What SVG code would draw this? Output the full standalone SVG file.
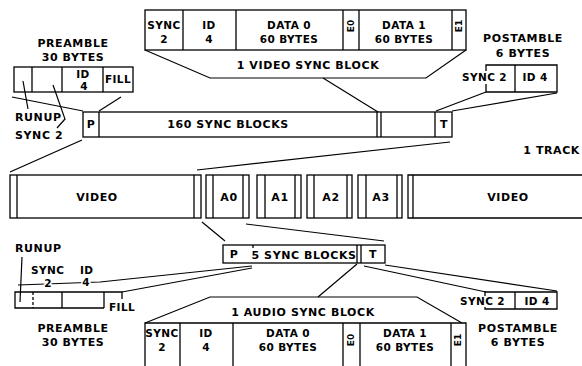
<svg xmlns="http://www.w3.org/2000/svg" width="582" height="366" viewBox="0 0 582 366">
<style>
.b{fill:none;stroke:#000;stroke-width:1.3;stroke-linejoin:miter}
.c{fill:none;stroke:#000;stroke-width:1.2}
.t{font-family:"DejaVu Sans","Liberation Sans",sans-serif;font-weight:bold;font-size:11px;letter-spacing:0.6px;fill:#000;text-anchor:middle}
.s{font-size:10.5px;letter-spacing:0.4px}
.r{font-size:9px;letter-spacing:0}
.l{text-anchor:start}
.e{text-anchor:end}
.h{stroke:#fff;stroke-width:3px;paint-order:stroke}
</style>
<rect width="582" height="366" fill="#fff"/>

<g id="connectors">
  <!-- video sync block to bar -->
  <polyline class="c" points="145,50 210,78 426,78 466,50"/>
  <line class="c" x1="323" y1="78" x2="378" y2="112"/>
  <!-- top postamble to T -->
  <line class="c" x1="486" y1="92" x2="436" y2="111"/>
  <line class="c" x1="557" y1="93" x2="452" y2="111"/>
  <!-- top preamble to P -->
  <line class="c" x1="12" y1="97" x2="83" y2="111"/>
  <line class="c" x1="121" y1="97" x2="99" y2="111"/>
  <!-- pointers -->
  <line class="c" x1="23" y1="81" x2="28" y2="109"/>
  <polyline class="c" points="53,85 65,119 57,128"/>
  <!-- bar to track -->
  <line class="c" x1="82" y1="140" x2="10" y2="172"/>
  <line class="c" x1="450" y1="142" x2="197" y2="170"/>
  <!-- track to audio bar -->
  <line class="c" x1="202" y1="222" x2="225" y2="241"/>
  <line class="c" x1="246" y1="224" x2="384" y2="241"/>
  <!-- audio bar to bottom preamble -->
  <polyline class="c" points="18,285 100,282 252,266"/>
  <line class="c" x1="122" y1="292" x2="252" y2="268"/>
  <line class="c" x1="22" y1="257" x2="20" y2="302"/>
  <!-- audio bar to audio sync block -->
  <line class="c" x1="357" y1="264" x2="318" y2="297"/>
  <polyline class="c" points="145,323 210,297 417,297 462,323"/>
  <!-- audio T to bottom postamble -->
  <line class="c" x1="364" y1="266" x2="486" y2="292"/>
  <line class="c" x1="385" y1="265" x2="557" y2="291"/>
</g>

<g id="video-sync-block">
  <rect class="b" x="145" y="10" width="321" height="40"/>
  <line class="b" x1="183" y1="10" x2="183" y2="50"/>
  <line class="b" x1="236" y1="10" x2="236" y2="50"/>
  <line class="b" x1="343" y1="10" x2="343" y2="50"/>
  <line class="b" x1="359" y1="10" x2="359" y2="50"/>
  <line class="b" x1="452" y1="10" x2="452" y2="50"/>
  <text class="t s" x="164" y="29">SYNC</text>
  <text class="t s" x="164" y="43">2</text>
  <text class="t s" x="209" y="29">ID</text>
  <text class="t s" x="209" y="43">4</text>
  <text class="t s" x="289" y="29">DATA 0</text>
  <text class="t s" x="289" y="43">60 BYTES</text>
  <text class="t r" transform="translate(351,26) rotate(-90)" x="0" y="3.3">E0</text>
  <text class="t s" x="404" y="29">DATA 1</text>
  <text class="t s" x="404" y="43">60 BYTES</text>
  <text class="t r" transform="translate(459,26) rotate(-90)" x="0" y="3.3">E1</text>
  <text class="t" x="308" y="69">1 VIDEO SYNC BLOCK</text>
</g>

<g id="preamble-top">
  <text class="t" x="73" y="47">PREAMBLE</text>
  <text class="t" x="73" y="61">30 BYTES</text>
  <rect class="b" x="14" y="67" width="119" height="25"/>
  <line class="b" x1="32" y1="67" x2="32" y2="92"/>
  <line class="b" x1="62" y1="67" x2="62" y2="92"/>
  <line class="b" x1="103" y1="67" x2="103" y2="92"/>
  <text class="t s" x="83" y="78">ID</text>
  <text class="t s" x="84" y="90">4</text>
  <text class="t s" x="118" y="83">FILL</text>
  <text class="t l" x="15" y="121">RUNUP</text>
  <text class="t l" x="15" y="139">SYNC 2</text>
</g>

<g id="postamble-top">
  <text class="t" x="523" y="42">POSTAMBLE</text>
  <text class="t" x="523" y="57">6 BYTES</text>
  <polyline class="b" points="486,71 486,65 557,65 557,92 486,92 486,84"/>
  <line class="b" x1="515" y1="65" x2="515" y2="92"/>
  <text class="t s l" x="462" y="81">SYNC 2</text>
  <text class="t s" x="535" y="81">ID 4</text>
</g>

<g id="video-bar">
  <rect class="b" x="83" y="112" width="369" height="25"/>
  <line class="b" x1="99" y1="112" x2="99" y2="137"/>
  <line class="b" x1="377" y1="112" x2="377" y2="137"/>
  <line class="b" x1="381" y1="112" x2="381" y2="137"/>
  <line class="b" x1="435" y1="112" x2="435" y2="137"/>
  <text class="t" x="91" y="128">P</text>
  <text class="t" x="228" y="128">160 SYNC BLOCKS</text>
  <text class="t" x="444" y="128">T</text>
</g>

<g id="track">
  <text class="t e" x="580" y="154">1 TRACK</text>
  <g id="seg-video-1">
    <rect class="b" x="10" y="175" width="191" height="43"/>
    <line class="b" x1="17" y1="175" x2="17" y2="218"/>
    <line class="b" x1="194" y1="175" x2="194" y2="218"/>
    <text class="t" x="97" y="201">VIDEO</text>
  </g>
  <g id="seg-a0">
    <rect class="b" x="206" y="175" width="43" height="43"/>
    <line class="b" x1="213" y1="175" x2="213" y2="218"/>
    <line class="b" x1="243" y1="175" x2="243" y2="218"/>
    <text class="t" x="229" y="201">A0</text>
  </g>
  <g id="seg-a1">
    <rect class="b" x="257" y="175" width="44" height="43"/>
    <line class="b" x1="265" y1="175" x2="265" y2="218"/>
    <line class="b" x1="295" y1="175" x2="295" y2="218"/>
    <text class="t" x="280" y="201">A1</text>
  </g>
  <g id="seg-a2">
    <rect class="b" x="307" y="175" width="45" height="43"/>
    <line class="b" x1="314" y1="175" x2="314" y2="218"/>
    <line class="b" x1="347" y1="175" x2="347" y2="218"/>
    <text class="t" x="331" y="201">A2</text>
  </g>
  <g id="seg-a3">
    <rect class="b" x="358" y="175" width="44" height="43"/>
    <line class="b" x1="366" y1="175" x2="366" y2="218"/>
    <line class="b" x1="397" y1="175" x2="397" y2="218"/>
    <text class="t" x="381" y="201">A3</text>
  </g>
  <g id="seg-video-2">
    <polyline class="b" points="584,175 408,175 408,218 584,218"/>
    <line class="b" x1="413" y1="175" x2="413" y2="218"/>
    <text class="t" x="508" y="201">VIDEO</text>
  </g>
</g>

<g id="audio-bar">
  <rect class="b" x="223" y="245" width="162" height="18"/>
  <line class="b" x1="253" y1="245" x2="253" y2="248"/>
  <line class="b" x1="357" y1="245" x2="357" y2="263"/>
  <line class="b" x1="361" y1="245" x2="361" y2="263"/>
  <text class="t" x="234" y="258">P</text>
  <text class="t" x="304" y="259">5 SYNC BLOCKS</text>
  <text class="t" x="373" y="258">T</text>
</g>

<g id="preamble-bottom">
  <text class="t l" x="15" y="252">RUNUP</text>
  <text class="t s l" x="31" y="274">SYNC</text>
  <text class="t s l" x="80" y="274">ID</text>
  <text class="t s h" x="48" y="287">2</text>
  <text class="t s h" x="86" y="286">4</text>
  <polyline class="b" points="122,299 122,292 15,292 15,308 104,308"/>
  <line class="b" x1="33" y1="292" x2="33" y2="308" stroke-dasharray="3,2"/>
  <line class="b" x1="62" y1="292" x2="62" y2="308"/>
  <line class="b" x1="104" y1="292" x2="104" y2="308"/>
  <text class="t s l" x="109" y="311">FILL</text>
  <text class="t" x="73" y="332">PREAMBLE</text>
  <text class="t" x="73" y="346">30 BYTES</text>
</g>

<g id="audio-sync-block">
  <text class="t" x="303" y="316">1 AUDIO SYNC BLOCK</text>
  <polyline class="b" points="145,367 145,323 466,323 466,367"/>
  <line class="b" x1="180" y1="323" x2="180" y2="367"/>
  <line class="b" x1="233" y1="323" x2="233" y2="367"/>
  <line class="b" x1="343" y1="323" x2="343" y2="367"/>
  <line class="b" x1="360" y1="323" x2="360" y2="367"/>
  <line class="b" x1="451" y1="323" x2="451" y2="367"/>
  <text class="t s" x="162" y="337">SYNC</text>
  <text class="t s" x="162" y="351">2</text>
  <text class="t s" x="206" y="337">ID</text>
  <text class="t s" x="206" y="351">4</text>
  <text class="t s" x="288" y="337">DATA 0</text>
  <text class="t s" x="288" y="351">60 BYTES</text>
  <text class="t r" transform="translate(351,340) rotate(-90)" x="0" y="3.3">E0</text>
  <text class="t s" x="405" y="337">DATA 1</text>
  <text class="t s" x="405" y="351">60 BYTES</text>
  <text class="t r" transform="translate(458,340) rotate(-90)" x="0" y="3.3">E1</text>
</g>

<g id="postamble-bottom">
  <polyline class="b" points="485,296 485,292 557,292 557,309 485,309 485,307"/>
  <line class="b" x1="515" y1="292" x2="515" y2="309"/>
  <text class="t s l" x="460" y="305">SYNC 2</text>
  <text class="t s" x="537" y="305">ID 4</text>
  <text class="t" x="518" y="332">POSTAMBLE</text>
  <text class="t" x="518" y="346">6 BYTES</text>
</g>
</svg>
